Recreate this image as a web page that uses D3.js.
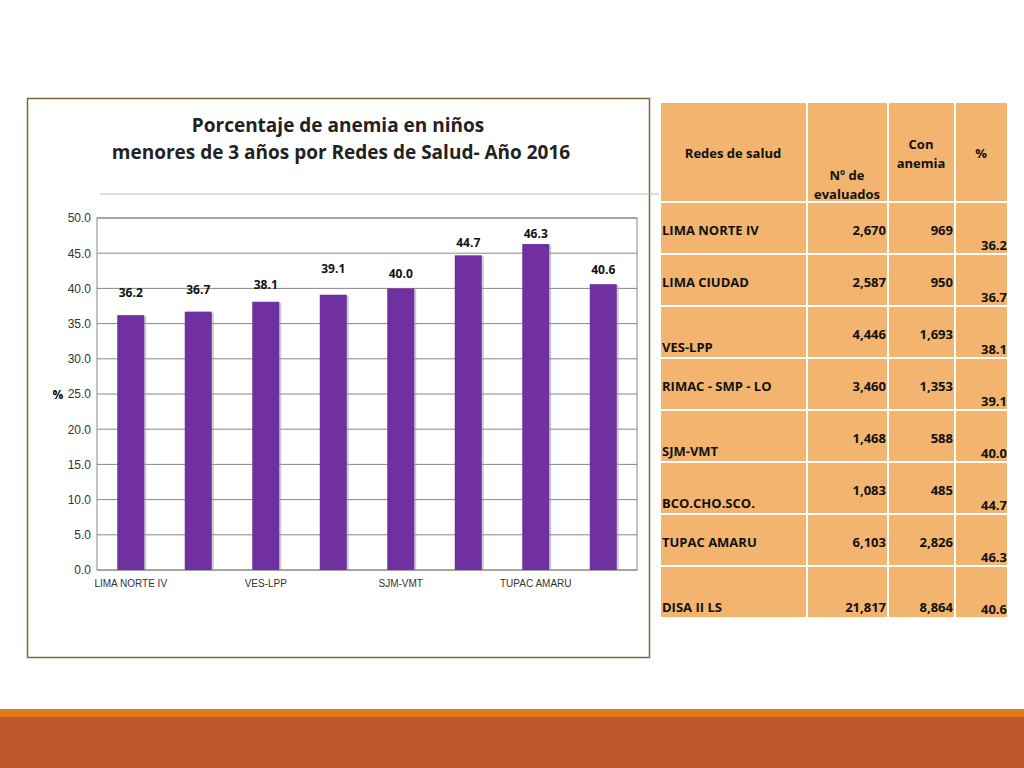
<!DOCTYPE html><html><head><meta charset="utf-8"><script src="https://cdn.jsdelivr.net/npm/d3@7"></script>
<style>body{margin:0;background:#fff}svg{display:block;font-family:"Open Sans","Liberation Sans",sans-serif}</style></head><body>
<svg id="c" width="1024" height="768"></svg>
<script>
const categories=["LIMA NORTE IV","LIMA CIUDAD","VES-LPP","RIMAC - SMP - LO","SJM-VMT","BCO.CHO.SCO.","TUPAC AMARU","DISA II LS"];
const axisLabels=["LIMA NORTE IV","","VES-LPP","","SJM-VMT","","TUPAC AMARU",""];
const percent=[36.2,36.7,38.1,39.1,40.0,44.7,46.3,40.6];
const evaluados=["2,670","2,587","4,446","3,460","1,468","1,083","6,103","21,817"];
const conAnemia=["969","950","1,693","1,353","588","485","2,826","8,864"];
const yTicks=[0,5,10,15,20,25,30,35,40,45,50];
const nameBottom=[false,false,true,false,true,true,false,true];

const svg=d3.select("#c");
// bottom bands
svg.append("rect").attr("x",0).attr("y",709).attr("width",1024).attr("height",8).attr("fill","#E07B1A");
svg.append("rect").attr("x",0).attr("y",717).attr("width",1024).attr("height",51).attr("fill","#BC582C");
// chart frame
svg.append("rect").attr("x",27.5).attr("y",98.5).attr("width",622).attr("height",559).attr("fill","#fff").attr("stroke","#7F6A3E").attr("stroke-width",1.5);
svg.append("line").attr("x1",100).attr("x2",660).attr("y1",194).attr("y2",194).attr("stroke","#bbb");
svg.append("text").attr("x",338).attr("y",132).attr("text-anchor","middle").attr("font-size",19).attr("font-weight","bold").attr("fill","#222").text("Porcentaje de anemia en niños");
svg.append("text").attr("x",341).attr("y",159).attr("text-anchor","middle").attr("font-size",19).attr("font-weight","bold").attr("fill","#222").text("menores de 3 años por Redes de Salud- Año 2016");

const x=d3.scaleBand().domain(categories).range([97,637]).paddingInner(0.6).paddingOuter(0.3);
const y=d3.scaleLinear().domain([0,50]).range([570,218]);
const g=svg.append("g");
g.selectAll(".gl").data(yTicks).join("line").attr("x1",97).attr("x2",637).attr("y1",d=>y(d)).attr("y2",d=>y(d)).attr("stroke","#888").attr("stroke-width",1);
g.append("rect").attr("x",97).attr("y",218).attr("width",540).attr("height",352).attr("fill","none").attr("stroke","#888");
const ya=d3.axisLeft(y).tickValues(yTicks).tickFormat(d3.format(".1f")).tickSize(0).tickPadding(6);
g.append("g").attr("transform","translate(97,0)").call(ya).call(a=>a.select(".domain").remove()).selectAll("text").attr("font-size",12).attr("fill","#333");
svg.append("text").attr("x",58).attr("y",399).attr("text-anchor","middle").attr("font-size",12).attr("font-weight","bold").text("%");
const xa=d3.axisBottom(x).tickSize(0).tickPadding(10).tickFormat((d,i)=>axisLabels[i]);
g.append("g").attr("transform","translate(0,570)").call(xa).call(a=>a.select(".domain").remove()).selectAll("text").attr("font-size",10).attr("fill","#333");
g.selectAll(".sh").data(percent).join("rect").attr("x",(d,i)=>x(categories[i])+2).attr("y",d=>y(d)+1).attr("width",x.bandwidth()).attr("height",d=>570-y(d)-1).attr("fill","#999").attr("opacity",0.5);
g.selectAll(".bar").data(percent).join("rect").attr("x",(d,i)=>x(categories[i])).attr("y",d=>y(d)).attr("width",x.bandwidth()).attr("height",d=>570-y(d)).attr("fill","#7030A0");
const lblOff=[-18,-18,-13,-22,-10,-8,-6,-10];
g.selectAll(".lb").data(percent).join("text").attr("x",(d,i)=>x(categories[i])+x.bandwidth()/2).attr("y",(d,i)=>y(d)+lblOff[i]).attr("text-anchor","middle").attr("font-size",12).attr("font-weight","bold").attr("fill","#111").text(d=>d.toFixed(1));

// table
const cols=[660,807,888,955,1008];
const rowY=d3.range(9).map(i=>i===0?102:202+(i-1)*52);
const T=svg.append("g").attr("font-size",13).attr("font-weight","bold").attr("fill","#111");
for(let r=0;r<9;r++){const y0=rowY[r],h=r===0?100:52;
 for(let c=0;c<4;c++)T.append("rect").attr("x",cols[c]).attr("y",y0).attr("width",cols[c+1]-cols[c]).attr("height",h).attr("fill","#F2B46E").attr("stroke","#fff").attr("stroke-width",2);}
const hdr=(x,y,t,a)=>T.append("text").attr("x",x).attr("y",y).attr("text-anchor",a||"middle").text(t);
hdr(733,158,"Redes de salud");hdr(847,180,"Nº de");hdr(847,199,"evaluados");hdr(921,149,"Con");hdr(921,168,"anemia");hdr(981,158,"%");
categories.forEach((n,i)=>{const y0=rowY[i+1];
 T.append("text").attr("x",662).attr("y",y0+(nameBottom[i]?46:33)).text(n);
 const ny=i===7?y0+46:y0+33;
 T.append("text").attr("x",886).attr("y",ny).attr("text-anchor","end").text(evaluados[i]);
 T.append("text").attr("x",953).attr("y",ny).attr("text-anchor","end").text(conAnemia[i]);
 T.append("text").attr("x",1007).attr("y",y0+48).attr("text-anchor","end").text(percent[i].toFixed(1));
});
</script></body></html>
